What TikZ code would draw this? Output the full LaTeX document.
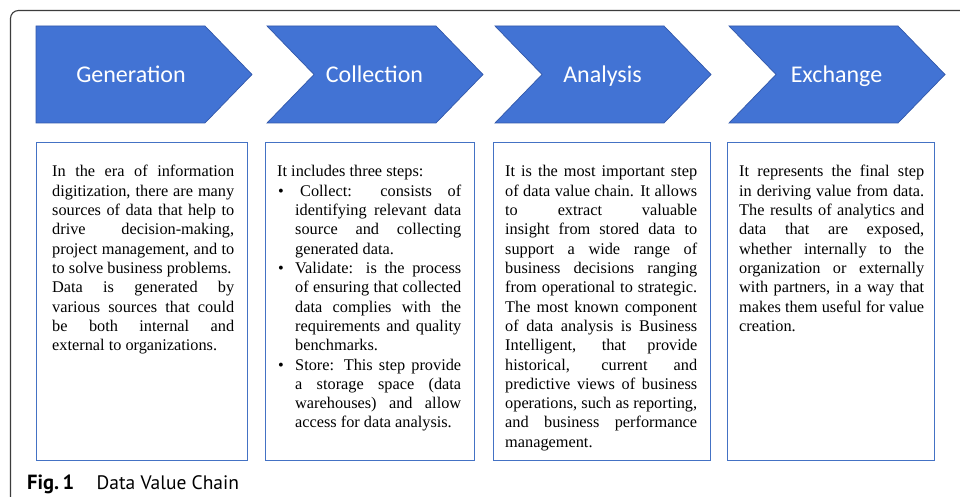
\documentclass[tikz,border=0pt]{standalone}
\usepackage{fontspec}
\setmainfont{Liberation Serif}
\newfontfamily\chevfont{Carlito}
\newfontfamily\capfont{PT Sans}
\definecolor{chevblue}{RGB}{66,115,212}
\definecolor{chevedge}{RGB}{50,88,170}
\definecolor{boxblue}{RGB}{68,114,196}
\definecolor{framegray}{RGB}{60,60,60}
\newcommand{\jl}[2]{{\spaceskip=0pt\xspaceskip=0pt\makebox[#1][s]{#2}}}
\newcommand{\bul}{\makebox[18pt][l]{\hspace{1pt}\textbullet}}
\newcommand{\ind}{\hspace*{18pt}}
\newcommand{\plainsp}{\spaceskip=0pt\xspaceskip=0pt\hyphenpenalty=10000}
\begin{document}
\begin{tikzpicture}[x=1pt,y=-1pt,
  chevron/.style={fill=chevblue, draw=chevedge, line width=0.7pt},
  stagebox/.style={draw=boxblue, line width=1.2pt, anchor=north west, minimum height=318pt, inner sep=0pt},
  stagelabel/.style={text=white, font=\chevfont\fontsize{24}{28}\selectfont, anchor=base, inner sep=0pt},
  boxtext/.style={anchor=base west, inner sep=0pt, align=left, font=\fontsize{16.3}{19.3}\selectfont},
  frameline/.style={draw=framegray, line width=1.1pt, rounded corners=8pt}]
\useasboundingbox (0,0) rectangle (960,497);
\fill[white] (0,0) rectangle (960,497);
% outer frame
\draw[frameline] (10.5,510) -- (10.5,10.5) -- (975,10.5);
% chevrons
\path[chevron] (36,26) -- (205,26) -- (252,74.5) -- (205,123) -- (36,123) -- cycle;
\foreach \x in {267,495,729}{
  \path[chevron] (\x,26) -- (\x+169,26) -- (\x+216,74.5) -- (\x+169,123) -- (\x,123) -- (\x+47,74.5) -- cycle;
}
\node[stagelabel] (l1) at (131,83) {Generation};
\node[stagelabel] (l2) at (374.5,83) {Collection};
\node[stagelabel] (l3) at (602.5,83) {Analysis};
\node[stagelabel] (l4) at (836.5,83) {Exchange};
% boxes
\node[stagebox, minimum width=211pt] (b1) at (36,142) {};
\node[stagebox, minimum width=209pt] (b2) at (265,142) {};
\node[stagebox, minimum width=217pt] (b3) at (493,142) {};
\node[stagebox, minimum width=207pt] (b4) at (727,142) {};
% texts
\node[boxtext, text width=182pt] (t1) at (52,177) {\plainsp
\jl{182pt}{In the era of information}\\
\jl{182pt}{digitization, there are many}\\
\jl{182pt}{sources of data that help to}\\
\jl{182pt}{drive decision-making,}\\
\jl{182pt}{project management, and to}\\
to solve business problems.\\
\jl{182pt}{Data is generated by}\\
\jl{182pt}{various sources that could}\\
\jl{182pt}{be both internal and}\\
external to organizations.};
\node[boxtext, text width=184pt] (t2) at (277,177) {\plainsp
It includes three steps:\\
\bul\jl{166pt}{\hspace{5pt}Collect: consists of}\\
\ind\jl{166pt}{identifying relevant data}\\
\ind\jl{166pt}{source and collecting}\\
\ind generated data.\\
\bul\jl{166pt}{Validate: is the process}\\
\ind\jl{166pt}{of ensuring that collected}\\
\ind\jl{166pt}{data complies with the}\\
\ind\jl{166pt}{requirements and quality}\\
\ind benchmarks.\\
\bul\jl{166pt}{Store: This step provide}\\
\ind\jl{166pt}{a storage space (data}\\
\ind\jl{166pt}{warehouses) and allow}\\
\ind access for data analysis.};
\node[boxtext, text width=192pt] (t3) at (505,177) {\plainsp
\jl{192pt}{It is the most important step}\\
\jl{192pt}{of data value chain. It allows}\\
\jl{192pt}{to extract valuable}\\
\jl{192pt}{insight from stored data to}\\
\jl{192pt}{support a wide range of}\\
\jl{192pt}{business decisions ranging}\\
\jl{192pt}{from operational to strategic.}\\
\jl{192pt}{The most known component}\\
\jl{192pt}{of data analysis is Business}\\
\jl{192pt}{Intelligent, that provide}\\
\jl{192pt}{historical, current and}\\
\jl{192pt}{predictive views of business}\\
\jl{192pt}{operations, such as reporting,}\\
\jl{192pt}{and business performance}\\
management.};
\node[boxtext, text width=185pt] (t4) at (739,177) {\plainsp
\jl{185pt}{It represents the final step}\\
\jl{185pt}{in deriving value from data.}\\
\jl{185pt}{The results of analytics and}\\
\jl{185pt}{data that are exposed,}\\
\jl{185pt}{whether internally to the}\\
\jl{185pt}{organization or externally}\\
\jl{185pt}{with partners, in a way that}\\
\jl{185pt}{makes them useful for value}\\
creation.};
% caption
\node[anchor=base west, inner sep=0pt, font=\capfont\fontsize{19.5}{23}\selectfont] (cap) at (27,489) {{\fontsize{20.5}{23}\selectfont\textbf{Fig.\,1}}\hspace{1.15em}Data Value Chain};
\end{tikzpicture}
\end{document}
